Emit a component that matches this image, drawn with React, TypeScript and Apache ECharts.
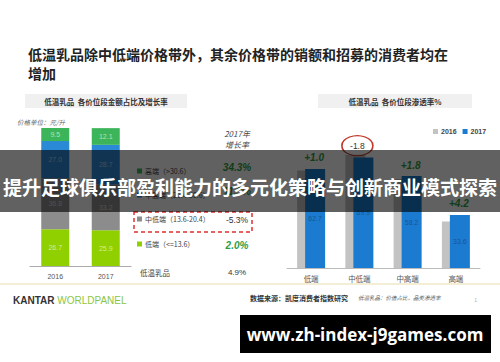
import React, { useEffect, useRef } from "react";
import * as echarts from "echarts";

const leftCats = ["2016", "2017"];
const lowEnd = [26.7, 25.9];
const midLow = [36.8, 33.2];
const midHigh = [27.0, 28.7];
const highEnd = [9.5, 12.1];
const legendLabels = ["高端（>30.6）", "中高端（20.4-30.6）", "中低端（13.6-20.4）", "低端（<=13.6）"];
const growth2017 = ["34.3%", "11.3%", "-5.3%", "2.0%"];
const totalGrowth = "4.9%";

const rightCats = ["低端", "中低端", "中高端", "高端"];
const pen2016 = [61.7, 71.7, 56.4, 29.4];
const pen2017 = [62.7, 69.9, 58.2, 33.6];
const penChange = ["+1.0", "-1.8", "+1.8", "+4.2"];

const C_HIGH = "#3cb55a";
const C_MIDHIGH = "#2a8ad6";
const C_MIDLOW = "#8c8c8c";
const C_LOW = "#90d000";
const C_16 = "#c3c3c3";
const C_17 = "#1a7bd0";
const GREEN_TXT = "#2e9e44";
const CJK = "'Noto Sans CJK SC', 'Noto Sans', sans-serif";

export default function App() {
  const ref = useRef<HTMLDivElement>(null);
  useEffect(() => {
    if (!ref.current) return;
    const chart = echarts.init(ref.current, null, { renderer: "svg" });
    const segLabel = {
      show: true,
      position: "inside" as const,
      fontSize: 7,
      color: "rgba(255,255,255,0.6)",
      fontFamily: "Arial, sans-serif",
      formatter: (p: any) => Number(p.value).toFixed(1),
    };
    const legendColors = [C_HIGH, C_MIDHIGH, C_MIDLOW, C_LOW];
    const legendY = [171, 195, 219, 244];
    const growthY = [167, 191, 220, 245];
    const growthColor = [GREEN_TXT, GREEN_TXT, "#333", GREEN_TXT];

    const graphic: any[] = [
      {
        type: "text", x: 28, y: 54, z: 10,
        style: { text: "低温乳品除中低端价格带外，其余价格带的销额和招募的消费者均在", fontSize: 14, fontWeight: "bold", fontFamily: CJK, fill: "#222", textVerticalAlign: "middle" },
      },
      {
        type: "text", x: 28, y: 73, z: 10,
        style: { text: "增加", fontSize: 14, fontWeight: "bold", fontFamily: CJK, fill: "#222", textVerticalAlign: "middle" },
      },
      { type: "rect", shape: { x: 25, y: 94, width: 162, height: 14 }, style: { fill: "#f0f0f0" }, z: 1 },
      {
        type: "text", x: 106, y: 101, z: 10,
        style: { text: "低温乳品  各价位段金额占比及增长率", fontSize: 7.5, fontWeight: "bold", fontFamily: CJK, fill: "#333", textAlign: "center", textVerticalAlign: "middle" },
      },
      { type: "rect", shape: { x: 318, y: 94, width: 154, height: 14 }, style: { fill: "#f0f0f0" }, z: 1 },
      {
        type: "text", x: 395, y: 101, z: 10,
        style: { text: "低温乳品  各价位段渗透率%", fontSize: 7.5, fontWeight: "bold", fontFamily: CJK, fill: "#333", textAlign: "center", textVerticalAlign: "middle" },
      },
      {
        type: "text", x: 17, y: 122, z: 10,
        style: { text: "价格单位：元/升", fontSize: 6.5, fontStyle: "italic", fontFamily: CJK, fill: "#666", textVerticalAlign: "middle" },
      },
      {
        type: "text", x: 237, y: 133, z: 10,
        style: { text: "2017年", fontSize: 8, fontStyle: "italic", fontFamily: CJK, fill: "#444", textAlign: "center", textVerticalAlign: "middle" },
      },
      {
        type: "text", x: 237, y: 144, z: 10,
        style: { text: "增长率", fontSize: 8, fontStyle: "italic", fontFamily: CJK, fill: "#444", textAlign: "center", textVerticalAlign: "middle" },
      },
      {
        type: "rect", z: 10,
        shape: { x: 134, y: 212, width: 118, height: 20 },
        style: { fill: "none", stroke: "#e03030", lineWidth: 1.5, lineDash: [4, 3] },
      },
      {
        type: "text", x: 140, y: 272, z: 10,
        style: { text: "低温乳品", fontSize: 7.5, fontFamily: CJK, fill: "#444", textVerticalAlign: "middle" },
      },
      {
        type: "text", x: 237, y: 272, z: 10,
        style: { text: totalGrowth, fontSize: 8, fontFamily: "Arial, sans-serif", fill: "#333", textAlign: "center", textVerticalAlign: "middle" },
      },
      { type: "line", z: 10, shape: { x1: 0, y1: 284, x2: 500, y2: 284 }, style: { stroke: "#e8dca8", lineWidth: 1 } },
      {
        type: "text", x: 13, y: 300, z: 10,
        style: {
          text: "{a|KANTAR }{b|WORLDPANEL}", textVerticalAlign: "middle",
          rich: {
            a: { fontSize: 10, fontWeight: "bold", fontFamily: "Arial, sans-serif", fill: "#333", color: "#333" },
            b: { fontSize: 10, fontFamily: "Arial, sans-serif", fill: "#8cc63f", color: "#8cc63f" },
          },
        },
      },
      {
        type: "text", x: 250, y: 298, z: 10,
        style: { text: "数据来源：凯度消费者指数研究", fontSize: 7, fontWeight: "bold", fontFamily: CJK, fill: "#333", textVerticalAlign: "middle" },
      },
      {
        type: "text", x: 358, y: 298, z: 10,
        style: { text: "低温乳品：价值占比，品类渗透率", fontSize: 5.5, fontStyle: "italic", fontFamily: CJK, fill: "#555", textVerticalAlign: "middle" },
      },
      {
        type: "text", x: 474, y: 300, z: 10,
        style: { text: "1", fontSize: 6, fontFamily: "Arial, sans-serif", fill: "#bbb", textVerticalAlign: "middle" },
      },
      // overlay band
      { type: "rect", z: 100, shape: { x: 0, y: 150, width: 500, height: 62 }, style: { fill: "rgba(0,0,0,0.62)" } },
      {
        type: "text", x: 250, y: 186, z: 101,
        style: { text: "提升足球俱乐部盈利能力的多元化策略与创新商业模式探索", fontSize: 19, fontWeight: "bold", fontFamily: CJK, fill: "#fff", textAlign: "center", textVerticalAlign: "middle" },
      },
      { type: "rect", z: 100, shape: { x: 240, y: 315, width: 251, height: 38 }, style: { fill: "#000" } },
      {
        type: "text", x: 365, y: 334, z: 101,
        style: { text: "www.zh-index-j9games.com", fontSize: 17, fontWeight: "bold", fontFamily: "'Open Sans', sans-serif", fill: "#fff", textAlign: "center", textVerticalAlign: "middle" },
      },
    ];
    legendLabels.forEach((t, i) => {
      graphic.push({ type: "rect", z: 10, shape: { x: 137, y: legendY[i] - 2.5, width: 5, height: 5 }, style: { fill: legendColors[i] } });
      graphic.push({
        type: "text", x: 145, y: legendY[i], z: 10,
        style: { text: t, fontSize: 7, fontFamily: CJK, fill: "#444", textVerticalAlign: "middle" },
      });
      graphic.push({
        type: "text", x: 237, y: growthY[i], z: 10,
        style: {
          text: growth2017[i], fontSize: i === 2 ? 8.5 : 10, fontWeight: i === 2 ? "normal" : "bold",
          fontStyle: i === 2 ? "normal" : "italic", fontFamily: "Arial, sans-serif",
          fill: growthColor[i], textAlign: "center", textVerticalAlign: "middle",
        },
      });
    });

    const markData = rightCats.map((c, i) => {
      const isCircle = i === 1;
      return {
        coord: [i, Math.max(pen2016[i], pen2017[i])],
        symbol: isCircle ? "circle" : "rect",
        symbolSize: isCircle ? [31, 20] : [1, 1],
        symbolOffset: [isCircle ? -6 : -1, isCircle ? -9 : -11],
        itemStyle: isCircle
          ? { color: "rgba(0,0,0,0)", borderColor: "#c0392b", borderWidth: 1.3 }
          : { color: "rgba(0,0,0,0)" },
        label: {
          show: true, position: "inside", formatter: penChange[i],
          fontSize: isCircle ? 8.5 : 10, fontWeight: isCircle ? "normal" : "bold",
          fontStyle: isCircle ? "normal" : "italic", fontFamily: "Arial, sans-serif",
          color: isCircle ? "#333" : GREEN_TXT,
        },
      };
    });

    const option: any = {
      animation: false,
      backgroundColor: "#fff",
      legend: {
        data: ["2016", "2017"], left: 428, top: 123, icon: "rect", itemWidth: 5, itemHeight: 5, itemGap: 6,
        textStyle: { fontSize: 7, fontWeight: "bold", color: "#444", fontFamily: "Arial, sans-serif", padding: [0, 0, 0, -2] },
      },
      grid: [
        { left: 30, top: 128, width: 101, height: 138 },
        { left: 287, top: 110, width: 193, height: 158 },
      ],
      xAxis: [
        {
          type: "category", gridIndex: 0, data: leftCats,
          axisLine: { lineStyle: { color: "#aaa" } }, axisTick: { lineStyle: { color: "#aaa" }, length: 3 },
          axisLabel: { fontSize: 7, color: "#555", margin: 7, fontFamily: "Arial, sans-serif" },
        },
        {
          type: "category", gridIndex: 1, data: rightCats,
          axisLine: { lineStyle: { color: "#bbb" } }, axisTick: { lineStyle: { color: "#bbb" }, length: 3 },
          axisLabel: { fontSize: 7.5, color: "#555", margin: 7, fontFamily: CJK },
        },
      ],
      yAxis: [
        { type: "value", gridIndex: 0, min: 0, max: 100, show: false },
        { type: "value", gridIndex: 1, min: 0, max: 100, show: false },
      ],
      graphic,
      series: [
        { type: "bar", name: "低端", stack: "a", xAxisIndex: 0, yAxisIndex: 0, data: lowEnd, barWidth: 28, itemStyle: { color: C_LOW }, label: segLabel },
        { type: "bar", name: "中低端", stack: "a", xAxisIndex: 0, yAxisIndex: 0, data: midLow, barWidth: 28, itemStyle: { color: C_MIDLOW }, label: segLabel },
        { type: "bar", name: "中高端", stack: "a", xAxisIndex: 0, yAxisIndex: 0, data: midHigh, barWidth: 28, itemStyle: { color: C_MIDHIGH }, label: segLabel },
        { type: "bar", name: "高端", stack: "a", xAxisIndex: 0, yAxisIndex: 0, data: highEnd, barWidth: 28, itemStyle: { color: C_HIGH }, label: segLabel },
        {
          type: "bar", name: "2016", xAxisIndex: 1, yAxisIndex: 1, data: pen2016, barWidth: 20, barGap: "-60%",
          itemStyle: { color: C_16 },
        },
        {
          type: "bar", name: "2017", xAxisIndex: 1, yAxisIndex: 1, data: pen2017, barWidth: 20,
          itemStyle: { color: C_17 },
          label: { show: true, position: "inside", fontSize: 7, color: "rgba(30,50,80,0.55)", fontFamily: "Arial, sans-serif", formatter: (p: any) => Number(p.value).toFixed(1) },
          markPoint: { data: markData, animation: false },
        },
      ],
    };
    chart.setOption(option);
    return () => chart.dispose();
  }, []);
  return <div ref={ref} style={{ position: "fixed", left: 0, top: 0, width: 500, height: 362 }} />;
}
